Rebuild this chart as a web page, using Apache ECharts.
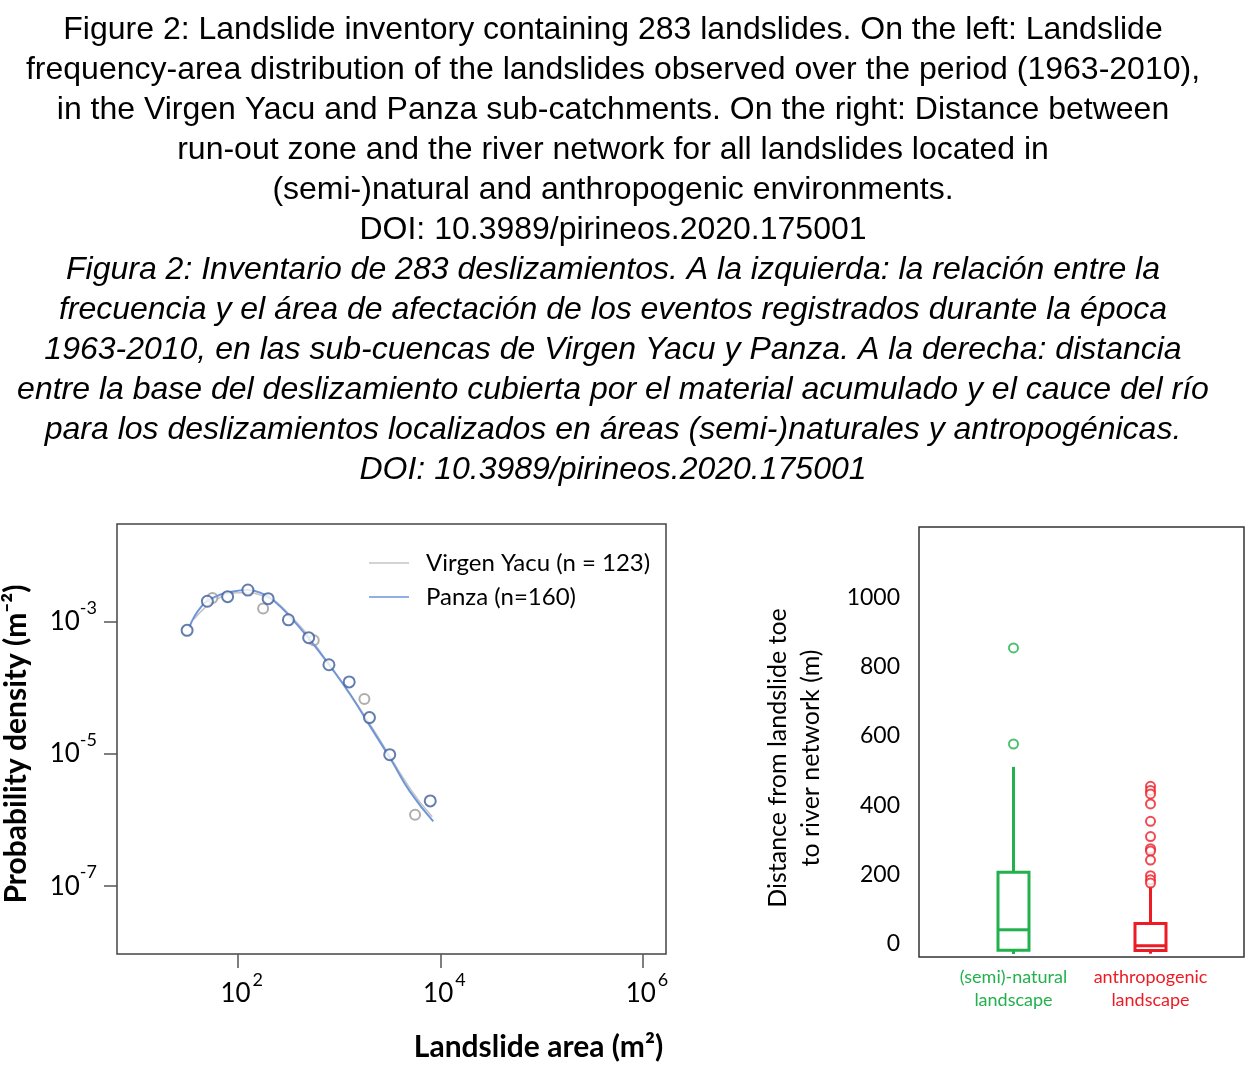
<!DOCTYPE html>
<html><head><meta charset="utf-8">
<script src="https://cdn.jsdelivr.net/npm/echarts@6/dist/echarts.min.js"></script>
<style>html,body{margin:0;padding:0;background:#fff}#c{width:1245px;height:1066px}</style>
</head><body><div id="c"></div>
<script>
// ---- caption ----
const captionEn = [
  'Figure 2: Landslide inventory containing 283 landslides. On the left: Landslide',
  'frequency-area distribution of the landslides observed over the period (1963-2010),',
  'in the Virgen Yacu and Panza sub-catchments. On the right: Distance between',
  'run-out zone and the river network for all landslides located in',
  '(semi-)natural and anthropogenic environments.',
  'DOI: 10.3989/pirineos.2020.175001'
];
const captionEs = [
  'Figura 2: Inventario de 283 deslizamientos. A la izquierda: la relación entre la',
  'frecuencia y el área de afectación de los eventos registrados durante la época',
  '1963-2010, en las sub-cuencas de Virgen Yacu y Panza. A la derecha: distancia',
  'entre la base del deslizamiento cubierta por el material acumulado y el cauce del río',
  'para los deslizamientos localizados en áreas (semi-)naturales y antropogénicas.',
  'DOI: 10.3989/pirineos.2020.175001'
];
// ---- left panel: log10 values ----
const panzaLogArea = [1.5, 1.7, 1.9, 2.1, 2.3, 2.5, 2.7, 2.9, 3.1, 3.3, 3.5, 3.9];
const panzaLogDensity = [-3.13, -2.69, -2.62, -2.52, -2.65, -2.97, -3.24, -3.65, -3.91, -4.45, -5.01, -5.71];
const virgenLogArea = [1.75, 2.25, 2.75, 3.25, 3.75];
const virgenLogDensity = [-2.64, -2.80, -3.28, -4.17, -5.92];
const panzaFitLogArea = [1.52, 1.64, 1.78, 1.93, 2.10, 2.25, 2.37, 2.52, 2.72, 2.92, 3.11, 3.31, 3.51, 3.70, 3.93];
const panzaFitLogDensity = [-3.09, -2.77, -2.62, -2.55, -2.52, -2.58, -2.70, -2.93, -3.29, -3.69, -4.10, -4.59, -5.08, -5.57, -6.02];
const virgenFitLogArea = [1.57, 1.78, 2.03, 2.25, 2.52, 2.92, 3.31, 3.70, 3.92];
const virgenFitLogDensity = [-2.96, -2.67, -2.56, -2.61, -2.91, -3.68, -4.56, -5.52, -5.95];
const areaTickExponents = [2, 4, 6];
const densityTickExponents = [-7, -5, -3];
const seriesNames = ['Virgen Yacu (n = 123)', 'Panza (n=160)'];
// ---- right panel ----
const landscapes = ['(semi)-natural\nlandscape', 'anthropogenic\nlandscape'];
const boxStats = [[-29, -18, 41, 207, 511], [-28, -19, -5, 59, 166]]; // min, q1, median, q3, max
const semiOutliers = [854, 577];
const anthroOutliers = [455, 443, 433, 404, 354, 310, 275, 268, 242, 197, 185, 176];
const distanceTicks = [0, 200, 400, 600, 800, 1000];
const landscapeColors = ['#22b14c', '#ed1c24'];

const zip = (a, b) => a.map((v, i) => [v, b[i]]);
const FONT = 'Lato';
const expRich = {
  a: { fontSize: 26, fontFamily: FONT, color: '#000', lineHeight: 46 },
  b: { fontSize: 18, fontFamily: FONT, color: '#000', verticalAlign: 'top', lineHeight: 18 }
};

const chart = echarts.init(document.getElementById('c'));
chart.setOption({
  animation: false,
  backgroundColor: '#fff',
  title: [
    { text: captionEn.join('\n'), left: 608, top: 5, textAlign: 'center',
      textStyle: { fontFamily: 'Liberation Sans', fontSize: 32, fontWeight: 'normal', lineHeight: 40, color: '#000' } },
    { text: captionEs.join('\n'), left: 608, top: 245, textAlign: 'center',
      textStyle: { fontFamily: 'Liberation Sans', fontSize: 32, fontWeight: 'normal', fontStyle: 'italic', lineHeight: 40, color: '#000' } }
  ],
  legend: {
    data: seriesNames, orient: 'vertical', left: 364, top: 545, icon: 'rect',
    itemWidth: 40, itemHeight: 1.5, itemGap: 8, selectedMode: false,
    textStyle: { fontFamily: FONT, fontSize: 24, color: '#000', lineHeight: 26, padding: [0, 0, 0, 12] }
  },
  grid: [
    { left: 116, top: 524, width: 550, height: 430, show: true, borderColor: '#444', borderWidth: 1.5, backgroundColor: 'transparent' },
    { left: 919, top: 527, width: 325, height: 430, show: true, borderColor: '#333', borderWidth: 1.5, backgroundColor: 'transparent' },
    { left: 945, top: 527, width: 274, height: 430 }
  ],
  xAxis: [
    { type: 'value', gridIndex: 0, min: 0.808, max: 6.227,
      axisLine: { show: false }, splitLine: { show: false },
      axisTick: { customValues: areaTickExponents, length: 14, lineStyle: { color: '#555', width: 1.5 } },
      axisLabel: { customValues: areaTickExponents, margin: 17,
        formatter: v => '{a|10}{b|' + v + '}', rich: { a: Object.assign({}, expRich.a, { padding: [0, 2, 0, 8] }), b: expRich.b } },
      name: 'Landslide area (m²)', nameLocation: 'middle', nameGap: 78,
      nameTextStyle: { fontFamily: FONT, fontSize: 30, fontWeight: 'bold', color: '#000', padding: [0, 0, 0, 294] } },
    { type: 'value', gridIndex: 1, show: false },
    { type: 'category', gridIndex: 2, data: landscapes,
      axisLine: { show: false },
      axisTick: { alignWithLabel: true, length: 4, lineStyle: { color: '#000', width: 1.5 } },
      axisLabel: { interval: 0, hideOverlap: false, margin: 9, fontFamily: FONT, fontSize: 18, lineHeight: 23,
        color: (v, i) => landscapeColors[i] } }
  ],
  yAxis: [
    { type: 'value', gridIndex: 0, min: -8.026, max: -1.521,
      axisLine: { show: false }, splitLine: { show: false },
      axisTick: { customValues: densityTickExponents, length: 13, lineStyle: { color: '#555', width: 1.5 } },
      axisLabel: { customValues: densityTickExponents, margin: 20,
        formatter: v => '{a|10}{b|' + v + '}', rich: expRich },
      name: 'Probability density (m⁻²)', nameLocation: 'middle', nameRotate: 90, nameGap: 86,
      nameTextStyle: { fontFamily: FONT, fontSize: 30, fontWeight: 'bold', color: '#000', padding: [0, 10, 0, 0] } },
    { type: 'value', gridIndex: 1, show: false },
    { type: 'value', gridIndex: 2, min: -37.5, max: 1203, offset: 26,
      axisLine: { show: false }, splitLine: { show: false },
      axisTick: { customValues: distanceTicks, length: 13, lineStyle: { color: '#555', width: 1.5 } },
      axisLabel: { customValues: distanceTicks, margin: 19, fontFamily: FONT, fontSize: 23, color: '#000',
        formatter: v => String(v) },
      name: 'Distance from landslide toe\nto river network (m)', nameLocation: 'middle', nameRotate: 90, nameGap: 92,
      nameTextStyle: { fontFamily: FONT, fontSize: 25, color: '#000', lineHeight: 33, padding: [0, 32, 0, 0] } }
  ],
  series: [
    { name: seriesNames[0], type: 'line', xAxisIndex: 0, yAxisIndex: 0, smooth: true, showSymbol: false,
      data: zip(virgenFitLogArea, virgenFitLogDensity), color: '#c4c4c4', lineStyle: { width: 1.5, color: '#c4c4c4' }, z: 2 },
    { name: 'Virgen Yacu points', type: 'scatter', xAxisIndex: 0, yAxisIndex: 0, symbol: 'emptyCircle', symbolSize: 10,
      data: zip(virgenLogArea, virgenLogDensity), itemStyle: { color: '#9a9a9a', borderWidth: 1.5 }, z: 3 },
    { name: seriesNames[1], type: 'line', xAxisIndex: 0, yAxisIndex: 0, smooth: true, showSymbol: false,
      data: zip(panzaFitLogArea, panzaFitLogDensity), color: '#6f96d8', lineStyle: { width: 2, color: '#6f96d8' }, z: 4 },
    { name: 'Panza points', type: 'scatter', xAxisIndex: 0, yAxisIndex: 0, symbol: 'emptyCircle', symbolSize: 11,
      data: zip(panzaLogArea, panzaLogDensity), itemStyle: { color: '#3d5d98', borderWidth: 2.5 }, z: 5 },
    { name: 'box', type: 'custom', xAxisIndex: 2, yAxisIndex: 2,
      data: boxStats.map((s, i) => [i].concat(s)),
      encode: { x: 0, y: [1, 2, 3, 4, 5] },
      renderItem: (params, api) => {
        const c = api.value(0);
        const x = api.coord([c, 0])[0];
        const y = k => api.coord([c, api.value(k)])[1];
        const yMin = y(1), yQ1 = y(2), yMed = y(3), yQ3 = y(4), yMax = y(5);
        const hw = 15.5;
        const col = landscapeColors[params.dataIndex];
        const st = { stroke: col, lineWidth: 3, fill: null };
        return { type: 'group', children: [
          { type: 'line', shape: { x1: x, y1: yQ3, x2: x, y2: yMax }, style: st },
          { type: 'line', shape: { x1: x, y1: yQ1, x2: x, y2: yMin }, style: st },
          { type: 'rect', shape: { x: x - hw, y: yQ3, width: 2 * hw, height: yQ1 - yQ3 }, style: { stroke: col, lineWidth: 3, fill: '#fff' } },
          { type: 'line', shape: { x1: x - hw, y1: yMed, x2: x + hw, y2: yMed }, style: st }
        ] };
      } },
    { name: 'semi outliers', type: 'scatter', xAxisIndex: 2, yAxisIndex: 2, symbol: 'emptyCircle', symbolSize: 9,
      data: semiOutliers.map(v => [0, v]), itemStyle: { color: landscapeColors[0], borderWidth: 1.2 } },
    { name: 'anthro outliers', type: 'scatter', xAxisIndex: 2, yAxisIndex: 2, symbol: 'emptyCircle', symbolSize: 9,
      data: anthroOutliers.map(v => [1, v]), itemStyle: { color: landscapeColors[1], borderWidth: 1.2 } }
  ]
});
</script></body></html>
